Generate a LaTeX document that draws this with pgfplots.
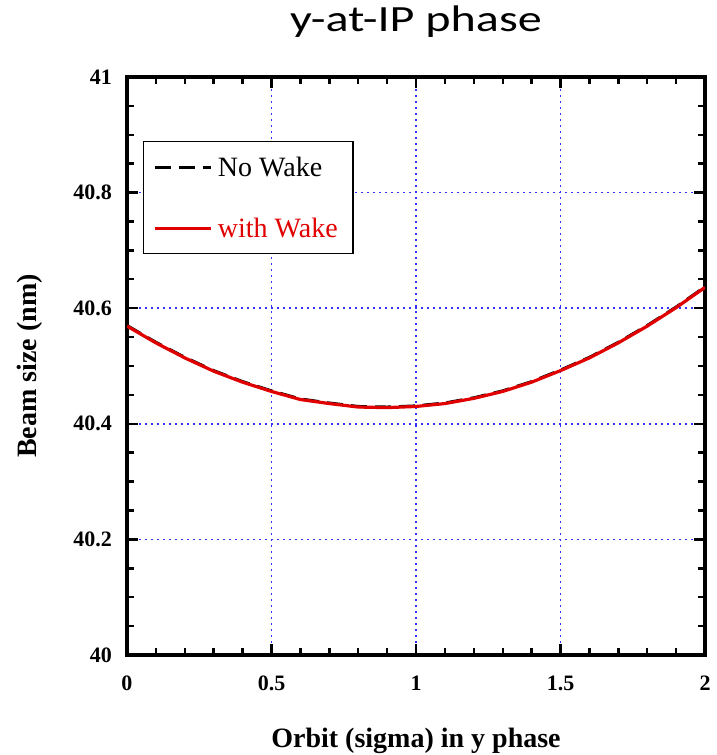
\documentclass[border=0pt]{standalone}
\usepackage{pgfplots}
\pgfplotsset{compat=1.18}
\usepackage{fontspec}
\setmainfont{Liberation Serif}
\newfontfamily\titlefont{Carlito}
\definecolor{gridblue}{RGB}{50,50,250}
\definecolor{wakered}{RGB}{225,0,0}
\begin{document}
\begin{tikzpicture}
\path[use as bounding box] (-127bp,-100bp) rectangle (590bp,655bp);
\begin{axis}[
  at={(0,0)}, anchor=south west,
  scale only axis, width=578bp, height=578bp,
  xmin=0, xmax=2, ymin=40, ymax=41,
  xtick={0,0.5,1,1.5,2}, ytick={40,40.2,40.4,40.6,40.8,41},
  minor x tick num=4, minor y tick num=3,
  tick align=inside,
  grid=major,
  major grid style={gridblue, line width=1.5bp, dash pattern=on 1.8bp off 4.2bp},
  separate axis lines,
  axis line style={line width=4bp, line cap=rect},
  major tick length=11bp, minor tick length=7bp,
  tick style={black, line width=2.4bp},
  ticklabel style={font=\fontsize{22bp}{26bp}\selectfont\bfseries, inner sep=0pt},
  xticklabel style={anchor=north, yshift=-21bp},
  yticklabel style={anchor=east, xshift=-15bp},
  title={\scalebox{1.3}[1]{y-at-IP phase}},
  title style={at={(axis description cs:0.5,1)}, anchor=base, yshift=40bp, inner sep=0pt,
    font=\titlefont\fontsize{37bp}{44bp}\selectfont},
  xlabel={Orbit (sigma) in y phase},
  xlabel style={at={(axis description cs:0.5,0)}, anchor=center, yshift=-86bp,
    font=\fontsize{28bp}{32bp}\selectfont\bfseries},
  ylabel={Beam size (nm)},
  ylabel style={at={(axis description cs:-0.1678,0.5)}, anchor=center,
    font=\fontsize{28bp}{32bp}\selectfont\bfseries},
  legend cell align=left,
  legend style={at={(axis description cs:0,1)}, anchor=north west,
    xshift=16bp, yshift=-64bp, draw=black, line width=1.5bp,
    font=\fontsize{28bp}{32bp}\selectfont,
    inner xsep=10bp, inner ysep=13bp, row sep=36bp,
    nodes={inner xsep=5bp}},
  legend image code/.code={\draw[#1] (0bp,0bp) -- (56bp,0bp);},
  /pgf/number format/assume math mode=true,
]
\addplot[black, line width=3bp, dash pattern=on 16bp off 8bp] coordinates {
(0,40.570) (0.1,40.541) (0.2,40.515) (0.3,40.492) (0.4,40.473) (0.5,40.457)
(0.6,40.443) (0.7,40.436) (0.8,40.430) (0.9,40.429) (1.0,40.431) (1.1,40.436)
(1.2,40.445) (1.3,40.457) (1.4,40.473) (1.5,40.493) (1.6,40.515) (1.7,40.541)
(1.8,40.570) (1.9,40.602) (2.0,40.637)};
\addlegendentry{No Wake}
\addplot[wakered, line width=3.2bp] coordinates {
(0,40.569) (0.1,40.540) (0.2,40.514) (0.3,40.491) (0.4,40.472) (0.5,40.456)
(0.6,40.442) (0.7,40.435) (0.8,40.429) (0.9,40.428) (1.0,40.430) (1.1,40.435)
(1.2,40.444) (1.3,40.456) (1.4,40.472) (1.5,40.492) (1.6,40.514) (1.7,40.540)
(1.8,40.569) (1.9,40.601) (2.0,40.636)};
\addlegendentry{\textcolor{wakered}{with Wake}}
\end{axis}
\end{tikzpicture}
\end{document}
